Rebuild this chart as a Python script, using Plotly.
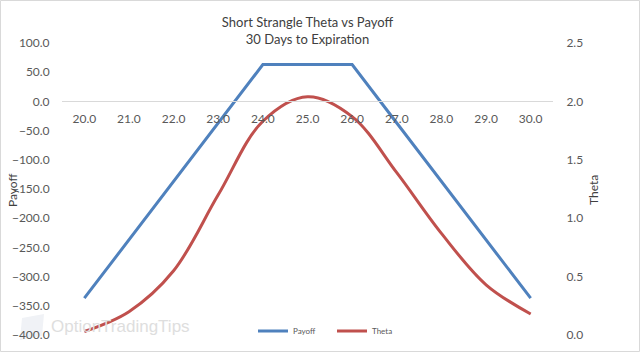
import plotly.graph_objects as go

strikes = ["20.0", "21.0", "22.0", "23.0", "24.0", "25.0", "26.0", "27.0", "28.0", "29.0", "30.0"]
payoff = [-337, -237, -137, -37, 63, 63, 63, -37, -137, -237, -337]
theta = [0.03, 0.20, 0.55, 1.20, 1.83, 2.04, 1.87, 1.39, 0.87, 0.43, 0.18]

W, H = 640, 352
L, R, T, B = 62, 87, 43, 17
pw, ph = W - L - R, H - T - B

font = "Lato, 'Open Sans', sans-serif"
txt = "#595959"

fig = go.Figure()
fig.add_trace(go.Scatter(x=strikes, y=payoff, name="Payoff", mode="lines", legend="legend",
                         line=dict(color="#4F81BD", width=3)))
fig.add_trace(go.Scatter(x=strikes, y=theta, name="Theta", mode="lines", yaxis="y2", legend="legend2",
                         line=dict(color="#C0504D", width=3, shape="spline", smoothing=1.0)))

def px_x(p):
    return (p - L) / pw

def px_y(p):
    return (H - B - p) / ph

leg_common = dict(orientation="h", yanchor="middle", y=px_y(331), xanchor="left",
                  font=dict(size=8, color=txt), bgcolor="rgba(0,0,0,0)", itemwidth=30)

fig.update_layout(
    width=W, height=H,
    margin=dict(l=L, r=R, t=T, b=B, autoexpand=False),
    paper_bgcolor="white", plot_bgcolor="white",
    font=dict(family=font, size=12, color=txt),
    title=dict(text="Short Strangle Theta vs Payoff<br>30 Days to Expiration",
               x=0.5, xref="paper", xanchor="center", y=1 - 27 / H, yanchor="middle",
               font=dict(family=font, size=13, color="#404040")),
    showlegend=True,
    legend=dict(x=px_x(253), **leg_common),
    legend2=dict(x=px_x(332), **leg_common),
    xaxis=dict(type="category", range=[-0.5, 10.5], anchor="free", position=0.8,
               automargin=False,
               showline=True, linecolor="#D9D9D9", linewidth=1, showgrid=False, zeroline=False,
               ticks="outside", ticklen=6, tickcolor="rgba(0,0,0,0)",
               tickfont=dict(size=12, color=txt)),
    yaxis=dict(range=[-400, 100], dtick=50, tickformat=".1f", showgrid=False, zeroline=False,
               automargin=False,
               showline=False, ticks="outside", ticklen=9, tickcolor="rgba(0,0,0,0)",
               tickfont=dict(size=12, color=txt)),
    yaxis2=dict(range=[0, 2.5], dtick=0.5, tickformat=".1f", overlaying="y", side="right",
                automargin=False,
                showgrid=False, zeroline=False, showline=False,
                ticks="outside", ticklen=10, tickcolor="rgba(0,0,0,0)",
                tickfont=dict(size=12, color=txt)),
)

fig.add_annotation(text="Payoff", xref="paper", yref="paper", x=px_x(12), y=px_y(190),
                   textangle=-90, showarrow=False, xanchor="center", yanchor="middle",
                   font=dict(family=font, size=12, color="#404040"))
fig.add_annotation(text="Theta", xref="paper", yref="paper", x=px_x(593), y=px_y(190),
                   textangle=-90, showarrow=False, xanchor="center", yanchor="middle",
                   font=dict(family=font, size=12, color="#404040"))

fig.add_annotation(text="OptionTradingTips", xref="paper", yref="paper",
                   x=px_x(49), y=px_y(326), xanchor="left", yanchor="middle", showarrow=False,
                   font=dict(family="'Liberation Sans', Arial, sans-serif", size=17, color="#DEDEDE"))
fig.add_shape(type="path", xref="paper", yref="paper",
              path="M %f,%f L %f,%f L %f,%f L %f,%f Z" % (
                  px_x(20), px_y(340), px_x(22), px_y(318), px_x(44), px_y(314), px_x(42), px_y(336)),
              fillcolor="#F0F2F6", line=dict(width=0), layer="below")

fig.add_shape(type="rect", xref="paper", yref="paper",
              x0=px_x(0.5), x1=px_x(W - 0.5), y0=px_y(H - 0.5), y1=px_y(0.5),
              line=dict(color="#D9D9D9", width=1), layer="below")

fig.write_html("out.html")
